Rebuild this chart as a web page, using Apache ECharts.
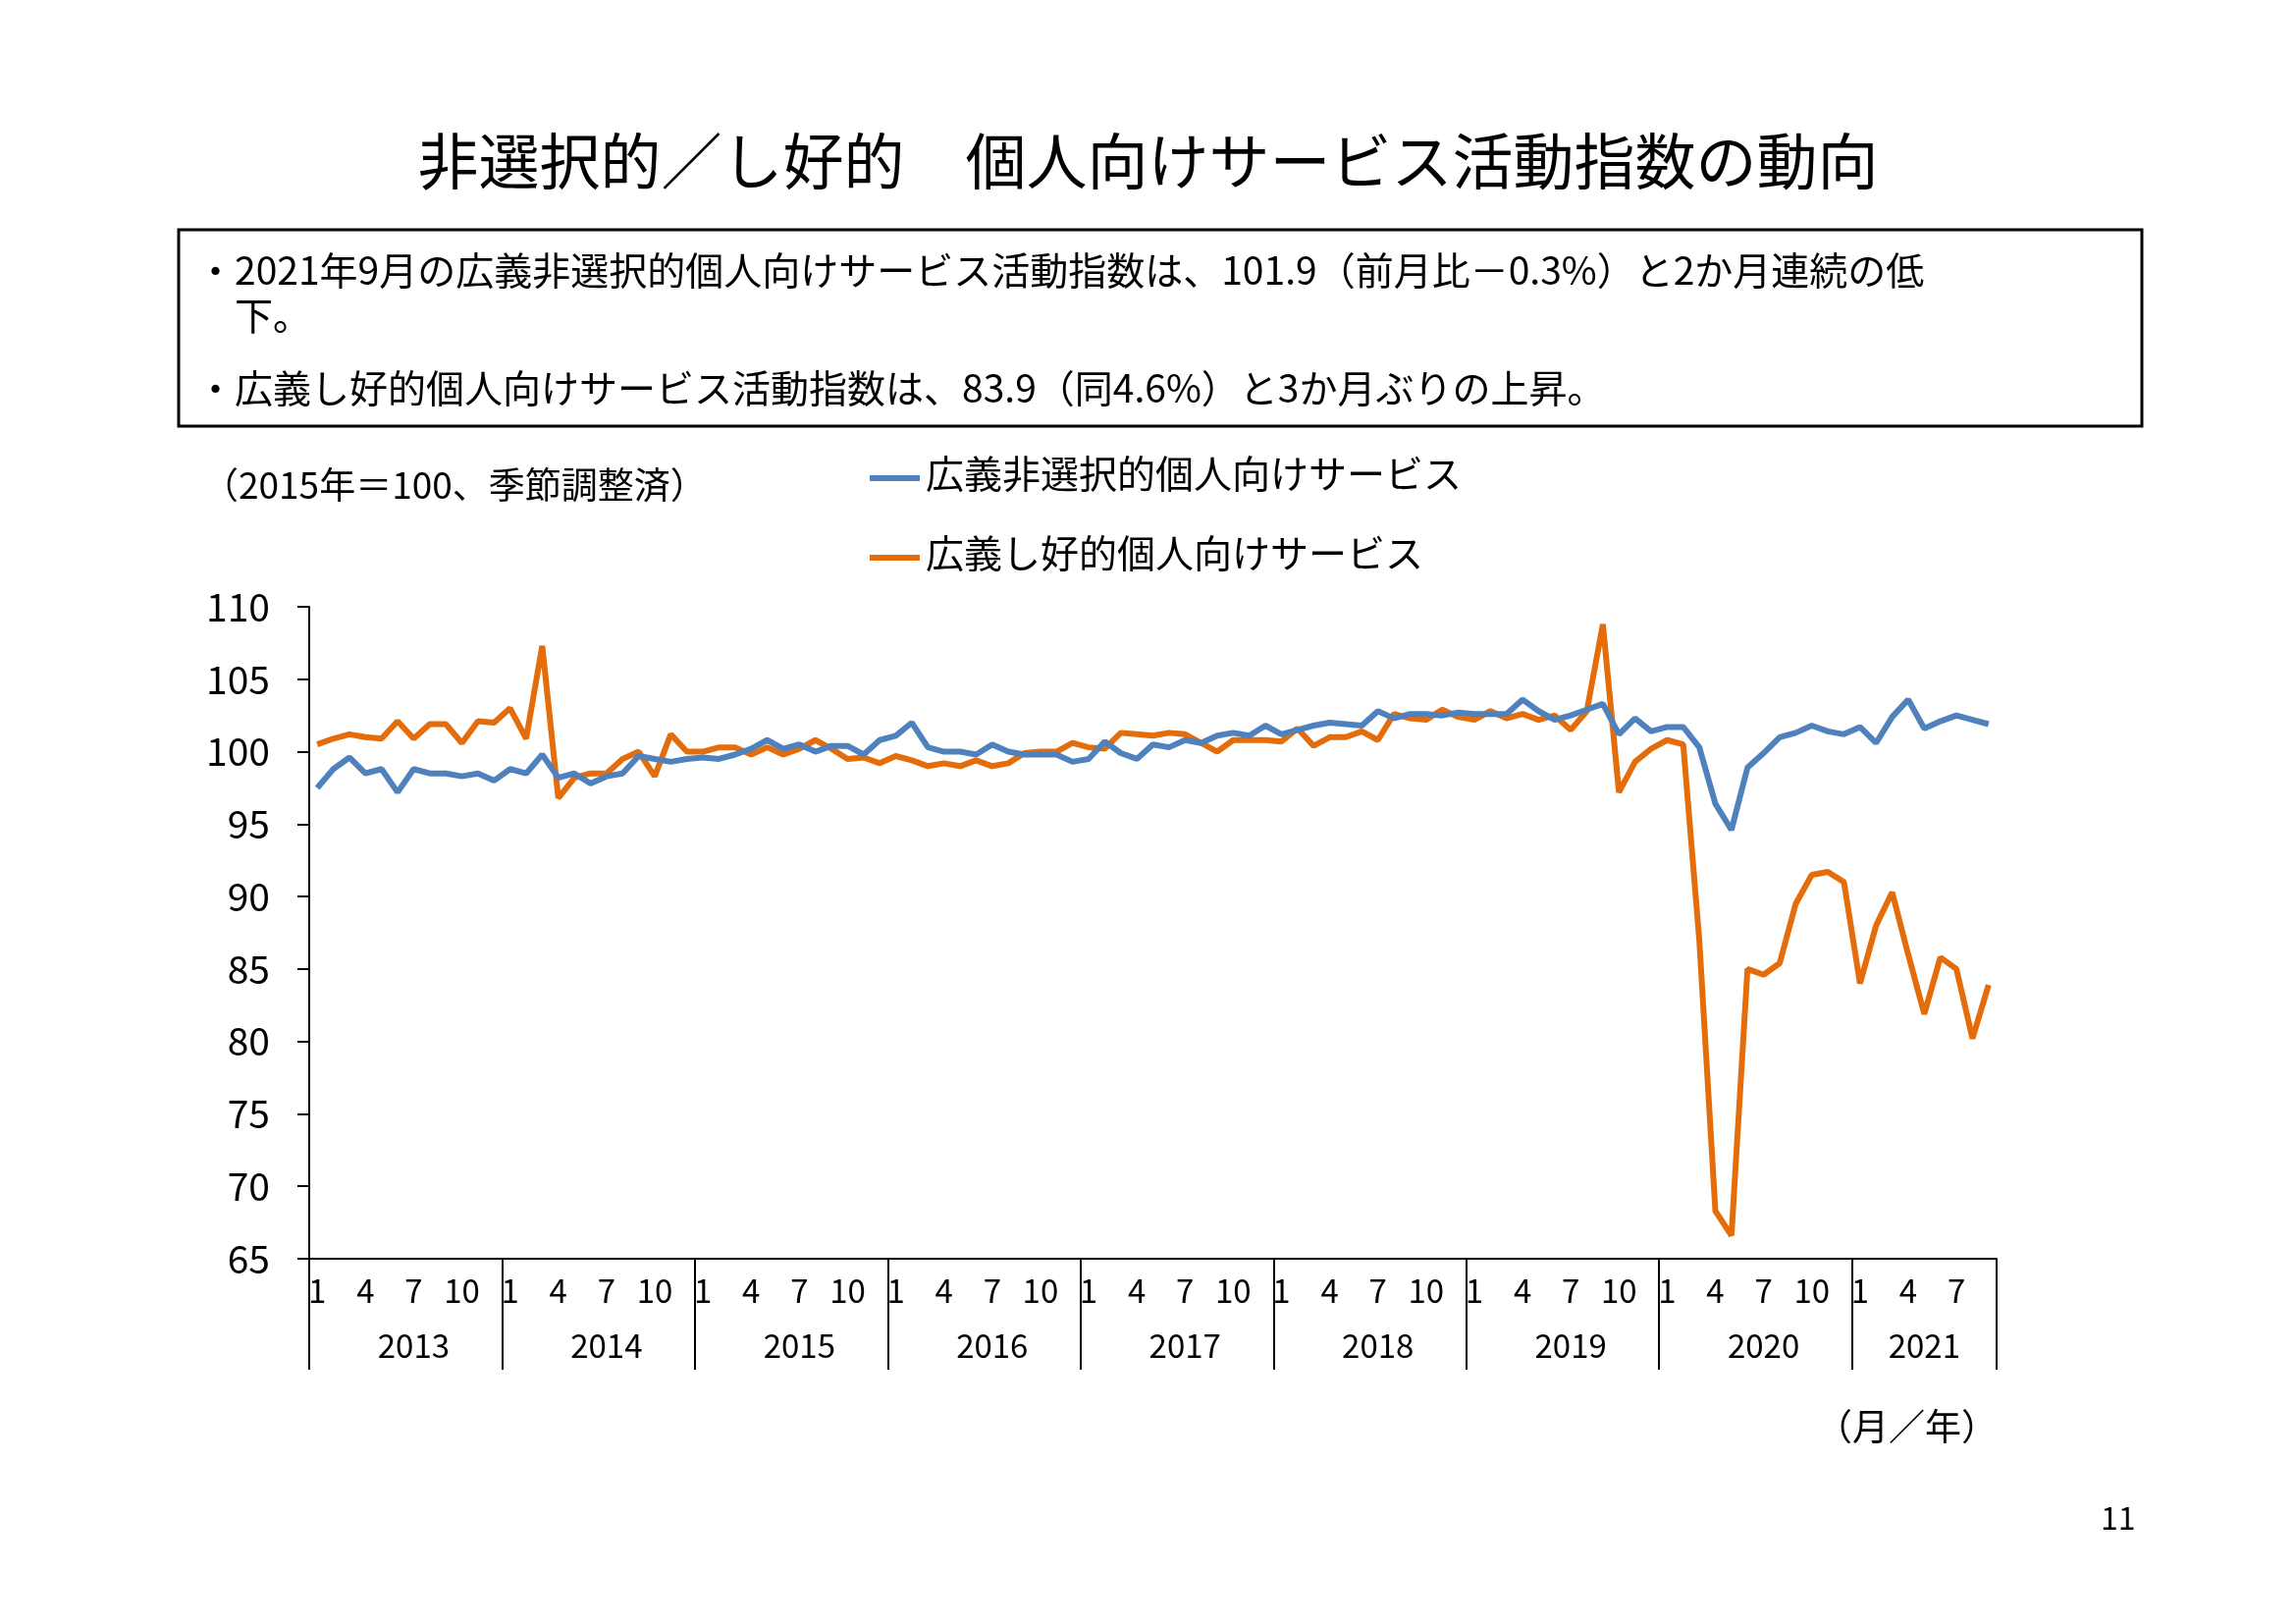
<!DOCTYPE html>
<html><head><meta charset="utf-8">
<script src="https://cdn.jsdelivr.net/npm/echarts@6/dist/echarts.min.js"></script>
<style>html,body{margin:0;padding:0;background:#fff}#c{width:2339px;height:1654px}</style>
</head><body><div id="c"></div>
<script>
const years = [2013,2014,2015,2016,2017,2018,2019,2020,2021];
const monthTicks = [1,4,7,10];
const yTicks = [65,70,75,80,85,90,95,100,105,110];
const nonSelective = [
97.5,98.8,99.6,98.5,98.8,97.2,98.8,98.5,98.5,98.3,98.5,98.0,
98.8,98.5,99.8,98.2,98.5,97.8,98.3,98.5,99.7,99.5,99.3,99.5,
99.6,99.5,99.8,100.2,100.8,100.2,100.5,100.0,100.4,100.4,99.8,100.8,
101.1,102.0,100.3,100.0,100.0,99.8,100.5,100.0,99.8,99.8,99.8,99.3,
99.5,100.7,99.9,99.5,100.5,100.3,100.8,100.6,101.1,101.3,101.1,101.8,
101.2,101.5,101.8,102.0,101.9,101.8,102.8,102.3,102.6,102.6,102.5,102.7,
102.6,102.6,102.6,103.6,102.8,102.2,102.5,102.9,103.3,101.2,102.3,101.4,
101.7,101.7,100.3,96.4,94.6,98.9,99.9,101.0,101.3,101.8,101.4,101.2,
101.7,100.6,102.4,103.6,101.6,102.1,102.5,102.2,101.9];
const selective = [
100.5,100.9,101.2,101.0,100.9,102.1,100.9,101.9,101.9,100.6,102.1,102.0,
103.0,100.9,107.3,96.8,98.2,98.5,98.5,99.5,100.0,98.3,101.2,100.0,
100.0,100.3,100.3,99.8,100.3,99.8,100.2,100.8,100.2,99.5,99.6,99.2,
99.7,99.4,99.0,99.2,99.0,99.4,99.0,99.2,99.9,100.0,100.0,100.6,
100.3,100.2,101.3,101.2,101.1,101.3,101.2,100.6,100.0,100.8,100.8,100.8,
100.7,101.6,100.4,101.0,101.0,101.4,100.8,102.6,102.3,102.2,102.9,102.4,
102.2,102.8,102.3,102.6,102.2,102.5,101.5,102.8,108.8,97.2,99.3,100.2,
100.8,100.5,87.0,68.3,66.6,85.0,84.6,85.4,89.5,91.5,91.7,91.0,
84.0,88.0,90.3,86.0,81.9,85.8,85.0,80.2,83.9];
const cats = [];
years.forEach(y=>{for(let m=1;m<=12;m++){ if(cats.length<nonSelective.length) cats.push(y+'-'+m);}});
const F = '"Noto Sans CJK JP", sans-serif';
const BLUE='#4F81BD', ORANGE='#E46C0A';
function lastLabel(arr,color){
  return arr.map((v,i)=> i===arr.length-1 ? {value:v, symbol:'circle', symbolSize:18,
    label:{show:true,position:'right',distance:14,formatter:v.toFixed(1),color:color,fontSize:42,fontFamily:F}} : v);
}
const chart = echarts.init(document.getElementById('c'));
const opt = {
  animation:false,
  grid:{left:315,top:618,width:1719,height:664},
  title:{text:'非選択的／し好的　個人向けサービス活動指数の動向',left:'center',top:128,
    textStyle:{fontFamily:F,fontSize:62,fontWeight:'normal',color:'#000'}},
  legend:{show:false},
  xAxis:[{type:'category',data:cats,boundaryGap:true,
    axisLine:{lineStyle:{color:'#000',width:2}},
    axisTick:{show:true,interval:(i)=>i%12===0,length:113,lineStyle:{color:'#000',width:2}},
    axisLabel:{interval:0,margin:16,fontFamily:F,fontSize:33,color:'#000',
      formatter:(v)=>{const m=+v.split('-')[1];return monthTicks.includes(m)?String(m):'';}}},
   {type:'category',data:cats,position:'bottom',offset:0,boundaryGap:true,
    axisLine:{show:false},axisTick:{show:false},
    axisLabel:{interval:0,margin:72,fontFamily:F,fontSize:33,color:'#000',
      formatter:(v)=>{const p=v.split('-');const y=+p[0];const m=+p[1];
        const mid = (y===2021)?5:7; return m===mid?p[0]:'';}}}],
  yAxis:{type:'value',min:65,max:110,interval:5,
    axisLine:{show:true,lineStyle:{color:'#000',width:2}},
    axisTick:{show:true,inside:false,length:12,lineStyle:{color:'#000',width:2}},
    splitLine:{show:false},
    axisLabel:{fontFamily:F,fontSize:39,color:'#000',margin:40}},
  series:[
    {name:'広義非選択的個人向けサービス',type:'line',data:lastLabel(nonSelective,BLUE),showSymbol:false,
     symbol:'none',lineStyle:{color:BLUE,width:6},itemStyle:{color:BLUE},z:3},
    {name:'広義し好的個人向けサービス',type:'line',data:lastLabel(selective,ORANGE),showSymbol:false,
     symbol:'none',lineStyle:{color:ORANGE,width:6},itemStyle:{color:ORANGE},z:2}
  ],
  graphic:[
    {type:'rect',shape:{x:182,y:234,width:2000,height:200},style:{fill:'none',stroke:'#000',lineWidth:3}},
    {type:'text',left:200,top:252,style:{text:'・2021年9月の広義非選択的個人向けサービス活動指数は、101.9（前月比－0.3%）と2か月連続の低\n　下。',font:'39px '+F,fill:'#000',lineHeight:46}},
    {type:'text',left:200,top:376,style:{text:'・広義し好的個人向けサービス活動指数は、83.9（同4.6%）と3か月ぶりの上昇。',font:'39px '+F,fill:'#000'}},
    {type:'text',left:206,top:475,style:{text:'（2015年＝100、季節調整済）',font:'37px '+F,fill:'#000'}},
    {type:'line',shape:{x1:886,y1:487,x2:937,y2:487},style:{stroke:BLUE,lineWidth:6}},
    {type:'text',left:943,top:463,style:{text:'広義非選択的個人向けサービス',font:'39px '+F,fill:'#000'}},
    {type:'line',shape:{x1:886,y1:568,x2:937,y2:568},style:{stroke:ORANGE,lineWidth:6}},
    {type:'text',left:943,top:544,style:{text:'広義し好的個人向けサービス',font:'39px '+F,fill:'#000'}},
    {type:'text',left:1850,top:1434,style:{text:'（月／年）',font:'37px '+F,fill:'#000'}},
    {type:'text',left:2140,top:1530,style:{text:'11',font:'32px '+F,fill:'#000'}}
  ]
};
chart.setOption(opt);
// right-edge separator at the end of the category axis
const xr = chart.convertToPixel({xAxisIndex:0}, cats[cats.length-1]);
const bw = 1719/cats.length;
const yb = chart.convertToPixel({yAxisIndex:0}, 65);
opt.graphic.push({type:'line',shape:{x1:xr+bw/2,y1:yb,x2:xr+bw/2,y2:yb+113},style:{stroke:'#000',lineWidth:2}});
chart.setOption({graphic:opt.graphic});
</script></body></html>
